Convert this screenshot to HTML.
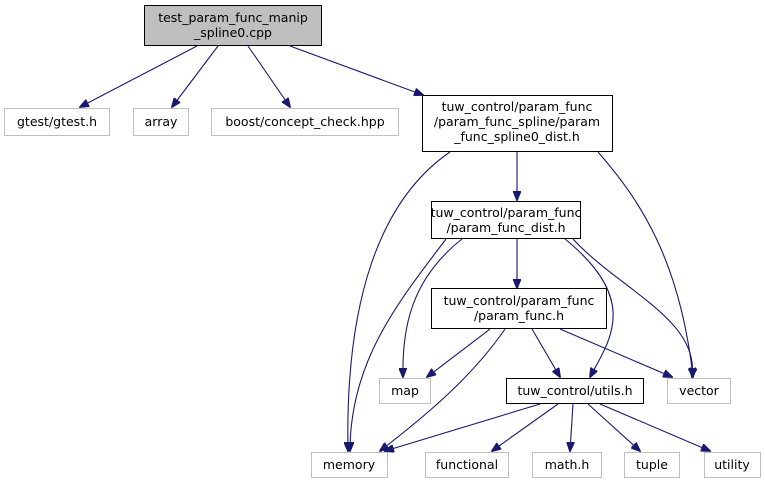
<!DOCTYPE html>
<html><head><meta charset="utf-8"><style>
html,body{margin:0;padding:0;background:#fff;}
svg text{font-family:"DejaVu Sans","Liberation Sans",sans-serif;font-size:12.5px;fill:#000;text-anchor:middle;}
</style></head><body>
<svg width="765" height="484" viewBox="0 0 765 484" xmlns="http://www.w3.org/2000/svg">
<defs><marker id="a" markerWidth="10" markerHeight="8" refX="9" refY="4" orient="auto" markerUnits="userSpaceOnUse"><path d="M0,0 L10,4 L0,8 Z" fill="#191970" stroke="#191970"/></marker></defs>
<g fill="none" stroke="#191970" stroke-width="1.1" marker-end="url(#a)">
<path d="M197,46 L80,107"/>
<path d="M218,46 L172,107"/>
<path d="M248,46 L290,107"/>
<path d="M290,46 L423,95"/>
<path d="M517,152 L517,200"/>
<path d="M450,152 C380,200 345,300 348,451"/>
<path d="M598,152 C640,200 680,260 693,377"/>
<path d="M517,239 L517,288"/>
<path d="M462,239 C410,280 402,330 403,377"/>
<path d="M446,239 C400,300 350,360 350,451"/>
<path d="M573,239 C620,290 700,320 692,377"/>
<path d="M565,239 C640,300 610,340 590,377"/>
<path d="M490,329 L427,377"/>
<path d="M505,329 C470,380 420,420 380,451"/>
<path d="M532,329 L560,377"/>
<path d="M560,329 L672,377"/>
<path d="M540,404 L385,451"/>
<path d="M558,404 L492,451"/>
<path d="M573,404 L570,451"/>
<path d="M588,404 L640,451"/>
<path d="M600,404 L710,451"/>
</g>
<g stroke-width="1">
<rect x="144.5" y="5.5" width="177" height="40" fill="#bfbfbf" stroke="#000"/>
<rect x="4.5" y="108.5" width="105" height="27" fill="#fff" stroke="#bfbfbf"/>
<rect x="133.5" y="108.5" width="55" height="27" fill="#fff" stroke="#bfbfbf"/>
<rect x="211.5" y="108.5" width="187" height="27" fill="#fff" stroke="#bfbfbf"/>
<rect x="422.5" y="95.5" width="190" height="56" fill="#fff" stroke="#000"/>
<rect x="431.5" y="201.5" width="149" height="37" fill="#fff" stroke="#000"/>
<rect x="431.5" y="288.5" width="175" height="40" fill="#fff" stroke="#000"/>
<rect x="379.5" y="378.5" width="51" height="25" fill="#fff" stroke="#bfbfbf"/>
<rect x="506.5" y="378.5" width="137" height="25" fill="#fff" stroke="#000"/>
<rect x="667.5" y="378.5" width="63" height="25" fill="#fff" stroke="#bfbfbf"/>
<rect x="311.5" y="452.5" width="76" height="25" fill="#fff" stroke="#bfbfbf"/>
<rect x="425.5" y="452.5" width="83" height="25" fill="#fff" stroke="#bfbfbf"/>
<rect x="532.5" y="452.5" width="69" height="25" fill="#fff" stroke="#bfbfbf"/>
<rect x="624.5" y="452.5" width="55" height="25" fill="#fff" stroke="#bfbfbf"/>
<rect x="704.5" y="452.5" width="56" height="25" fill="#fff" stroke="#bfbfbf"/>
</g>
<text x="233" y="22">test_param_func_manip</text>
<text x="233" y="37">_spline0.cpp</text>
<text x="57" y="126">gtest/gtest.h</text>
<text x="161" y="126">array</text>
<text x="305" y="126">boost/concept_check.hpp</text>
<text x="517" y="111">tuw_control/param_func</text>
<text x="517" y="126">/param_func_spline/param</text>
<text x="517" y="141">_func_spline0_dist.h</text>
<text x="506" y="217">tuw_control/param_func</text>
<text x="506" y="232">/param_func_dist.h</text>
<text x="519" y="305">tuw_control/param_func</text>
<text x="519" y="320">/param_func.h</text>
<text x="405" y="395">map</text>
<text x="575" y="395">tuw_control/utils.h</text>
<text x="699" y="395">vector</text>
<text x="349" y="469">memory</text>
<text x="467" y="469">functional</text>
<text x="567" y="469">math.h</text>
<text x="652" y="469">tuple</text>
<text x="732" y="469">utility</text>
</svg>
</body></html>
